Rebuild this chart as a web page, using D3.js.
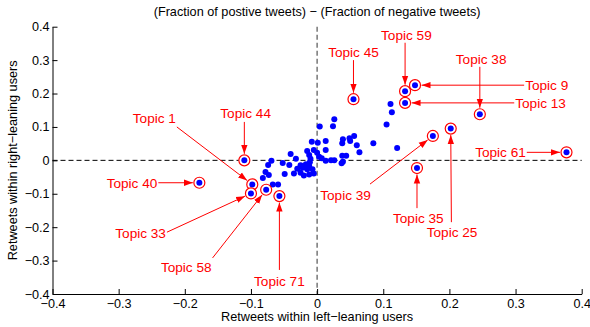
<!DOCTYPE html>
<html>
<head>
<meta charset="utf-8">
<script src="https://cdn.jsdelivr.net/npm/d3@7"></script>
<style>
  body { margin: 0; background: #fff; }
  text { font-family: "Liberation Sans", Arial, Helvetica, sans-serif; }
</style>
</head>
<body>
<div id="chart"></div>
<script>
// Unlabelled topics: retweets within left-leaning users (x) vs right-leaning users (y)
var topicX = [-0.040, -0.069, -0.074, -0.042, -0.078, -0.073, -0.082, -0.049, -0.067, -0.059,
  -0.035, -0.030, -0.025, -0.022, -0.017, -0.012, -0.015, -0.007, -0.005, -0.012,
  -0.025, -0.032, -0.010, -0.012, 0.003, 0.007, 0.013, -0.052, -0.020,
  -0.008, 0.001, 0.013, -0.015, -0.005, 0.000, 0.013, 0.004, 0.024, 0.026,
  0.039, 0.049, 0.056, 0.038, 0.050, 0.060, 0.085, 0.064, 0.021, 0.026,
  0.038, 0.044, 0.039, 0.037, -0.011, 0.111, 0.113, 0.105, 0.121];
var topicY = [0.019, -0.001, -0.014, -0.014, -0.035, -0.044, -0.053, -0.041, -0.072, -0.072,
  -0.039, -0.025, -0.015, -0.022, -0.012, -0.017, -0.027, -0.027, -0.039, -0.042,
  -0.037, 0.005, 0.005, 0.016, 0.011, 0.006, -0.001, -0.008, -0.045,
  0.056, 0.053, 0.058, 0.028, 0.031, 0.023, 0.031, 0.101, 0.102, 0.123,
  0.063, 0.066, 0.073, 0.051, 0.058, 0.045, 0.051, 0.024, 0.000, 0.000,
  0.014, 0.014, -0.004, -0.009, -0.006, 0.169, 0.144, 0.107, 0.037];

// Highlighted topics
var namedTopics = ["Topic 44", "Topic 1", "Topic 40", "Topic 33", "Topic 58", "Topic 71",
  "Topic 45", "Topic 59", "Topic 9", "Topic 13", "Topic 38", "Topic 39", "Topic 25",
  "Topic 61", "Topic 35"];
var namedX = [-0.110, -0.098, -0.178, -0.100, -0.077, -0.057, 0.055, 0.133, 0.148, 0.133,
  0.246, 0.175, 0.202, 0.377, 0.151];
var namedY = [0.000, -0.072, -0.067, -0.099, -0.088, -0.107, 0.183, 0.207, 0.225, 0.172,
  0.138, 0.073, 0.095, 0.024, -0.023];

// Tick labels
var xTicks = [-0.4, -0.3, -0.2, -0.1, 0, 0.1, 0.2, 0.3, 0.4];
var yTicks = [-0.4, -0.3, -0.2, -0.1, 0, 0.1, 0.2, 0.3, 0.4];

// Annotation layout (data units): text spot, anchor, start of the arrow line
var notes = [
  {tx: -0.108, ty: 0.142, a: "middle", lx: -0.110, ly: 0.115},
  {tx: -0.246, ty: 0.127, a: "middle", lx: -0.212, ly: 0.100},
  {tx: -0.240, ty: -0.067, a: "end", lx: -0.240, ly: -0.067},
  {tx: -0.227, ty: -0.218, a: "end", lx: -0.227, ly: -0.215},
  {tx: -0.158, ty: -0.319, a: "end", lx: -0.158, ly: -0.292},
  {tx: -0.057, ty: -0.361, a: "middle", lx: -0.057, ly: -0.328},
  {tx: 0.055, ty: 0.324, a: "middle", lx: 0.055, ly: 0.300},
  {tx: 0.135, ty: 0.375, a: "middle", lx: 0.133, ly: 0.352},
  {tx: 0.313, ty: 0.225, a: "start", lx: 0.313, ly: 0.225},
  {tx: 0.298, ty: 0.172, a: "start", lx: 0.298, ly: 0.172},
  {tx: 0.248, ty: 0.303, a: "middle", lx: 0.246, ly: 0.280},
  {tx: 0.043, ty: -0.104, a: "middle", lx: 0.080, ly: -0.071},
  {tx: 0.204, ty: -0.215, a: "middle", lx: 0.203, ly: -0.185},
  {tx: 0.317, ty: 0.024, a: "end", lx: 0.317, ly: 0.024},
  {tx: 0.153, ty: -0.173, a: "middle", lx: 0.151, ly: -0.143}
];

// Svg size
var svgWidth = 590;
var svgHeight = 327;

var marginLeft = 52.5;
var marginRight = 8.3;
var marginTop = 26.7;
var marginBottom = 33;

var svg = d3.select("#chart")
  .append("svg")
  .attr("width", svgWidth)
  .attr("height", svgHeight);

var x = d3.scaleLinear()
  .domain([-0.4, 0.4])
  .range([marginLeft, svgWidth - marginRight]);

var y = d3.scaleLinear()
  .domain([-0.4, 0.4])
  .range([svgHeight - marginBottom, marginTop]);

var red = "#ff0000";

svg.append("defs").append("marker")
  .attr("id", "head")
  .attr("markerUnits", "userSpaceOnUse")
  .attr("viewBox", "0 -4 9 8")
  .attr("refX", 9)
  .attr("refY", 0)
  .attr("markerWidth", 9)
  .attr("markerHeight", 8)
  .attr("orient", "auto")
  .append("path")
  .attr("d", "M0,-3.2L9,0L0,3.2Z")
  .attr("fill", red);

// Zero reference lines
svg.append("line")
  .attr("x1", x(-0.4)).attr("x2", x(0.4))
  .attr("y1", y(0)).attr("y2", y(0))
  .attr("stroke", "#000")
  .attr("stroke-dasharray", "5,3");

svg.append("line")
  .attr("x1", x(0)).attr("x2", x(0))
  .attr("y1", y(0.4)).attr("y2", y(-0.4))
  .attr("stroke", "#555")
  .attr("stroke-width", 1.2)
  .attr("stroke-dasharray", "5,3");

// Axes with inward ticks
var xAxis = svg.append("g")
  .attr("transform", `translate(0,${y(-0.4)})`)
  .call(d3.axisBottom(x).tickValues(xTicks).tickSize(-5).tickSizeOuter(0).tickPadding(5)
    .tickFormat(d3.format("")));

var yAxis = svg.append("g")
  .attr("transform", `translate(${x(-0.4)},0)`)
  .call(d3.axisLeft(y).tickValues(yTicks).tickSize(-5).tickSizeOuter(0).tickPadding(3)
    .tickFormat(d3.format("")));

[xAxis, yAxis].forEach(function(g) {
  g.selectAll("text").attr("font-size", 12.6).attr("fill", "#000")
    .text(function(d) { return d < 0 ? "\u2212" + Math.abs(d) : d; });
  g.selectAll("line").attr("stroke", "#000");
  g.select(".domain").attr("stroke", "#000");
});

// Plain topics
svg.append("g").selectAll("circle")
  .data(topicX)
  .enter()
  .append("circle")
  .attr("cx", function(d) { return x(d); })
  .attr("cy", function(d, i) { return y(topicY[i]); })
  .attr("r", 3)
  .attr("fill", "#0000ff");

// Highlighted topics
var named = namedTopics.map(function(name, i) {
  return {name: name, x: namedX[i], y: namedY[i], note: notes[i]};
});

var arrows = svg.append("g");
named.forEach(function(d) {
  var x1 = x(d.note.lx), y1 = y(d.note.ly);
  var px = x(d.x), py = y(d.y);
  var dx = px - x1, dy = py - y1;
  var len = Math.sqrt(dx * dx + dy * dy);
  var gap = 6.5;
  arrows.append("line")
    .attr("x1", x1).attr("y1", y1)
    .attr("x2", px - dx / len * gap)
    .attr("y2", py - dy / len * gap)
    .attr("stroke", red)
    .attr("stroke-width", 1)
    .attr("marker-end", "url(#head)");
});

var rings = svg.append("g").selectAll("g")
  .data(named)
  .enter()
  .append("g");

rings.append("circle")
  .attr("cx", d => x(d.x))
  .attr("cy", d => y(d.y))
  .attr("r", 5.5)
  .attr("fill", "#fff")
  .attr("stroke", red)
  .attr("stroke-width", 1.2);

rings.append("circle")
  .attr("cx", d => x(d.x))
  .attr("cy", d => y(d.y))
  .attr("r", 3)
  .attr("fill", "#0000ff");

svg.append("g").selectAll("text")
  .data(named)
  .enter()
  .append("text")
  .attr("x", d => x(d.note.tx) + (d.note.a === "end" ? -1 : d.note.a === "start" ? 1 : 0))
  .attr("y", d => y(d.note.ty))
  .attr("dy", "0.36em")
  .attr("text-anchor", d => d.note.a)
  .attr("font-size", 13.6)
  .attr("fill", red)
  .text(d => d.name);

// Titles
svg.append("text")
  .attr("x", x(0))
  .attr("y", 16)
  .attr("text-anchor", "middle")
  .attr("font-size", 12.7)
  .text("(Fraction of postive tweets) \u2212 (Fraction of negative tweets)");

svg.append("text")
  .attr("x", x(0))
  .attr("y", 321)
  .attr("text-anchor", "middle")
  .attr("font-size", 12.7)
  .text("Retweets within left\u2212leaning users");

svg.append("g")
  .attr("transform", `translate(17, ${y(0)})`)
  .append("text")
  .attr("text-anchor", "middle")
  .attr("transform", "rotate(-90)")
  .attr("font-size", 12.7)
  .text("Retweets within right\u2212leaning users");
</script>
</body>
</html>
